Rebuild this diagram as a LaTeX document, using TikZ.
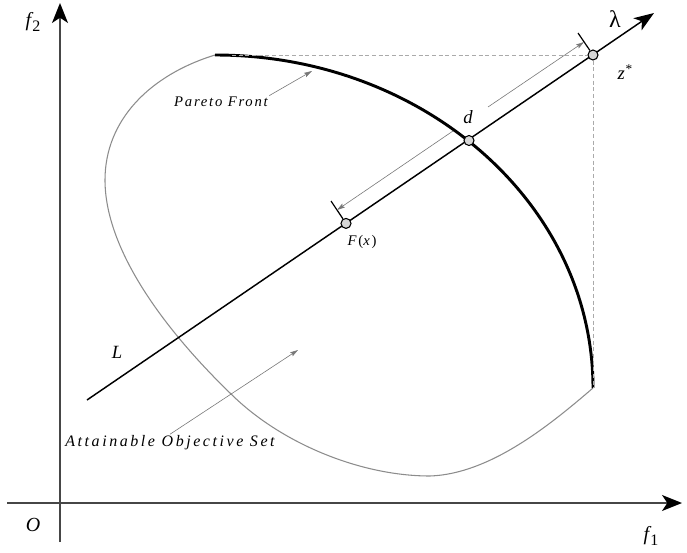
\documentclass[tikz,border=0pt]{standalone}
\usepackage{fontspec}
\setmainfont{Liberation Serif}
\newfontfamily\lblfont[LetterSpace=12]{Liberation Serif}
\newfontfamily\widelblfont[LetterSpace=16]{Liberation Serif}
\usetikzlibrary{arrows.meta}

\tikzset{every picture/.style={line width=0.75pt}}
\tikzset{
  axisline/.style={color={rgb, 255:red, 70; green, 70; blue, 70 }, line width=1.3pt, -{Stealth[length=15pt,width=12pt,inset=4pt,color=black]}},
  mainline/.style={color={rgb, 255:red, 0; green, 0; blue, 0 }, line width=1.1pt, -{Stealth[length=15pt,width=11pt,inset=4pt]}},
  pareto/.style={color={rgb, 255:red, 0; green, 0; blue, 0 }, line width=2.2pt},
  boundary/.style={color={rgb, 255:red, 140; green, 140; blue, 140 }, line width=0.8pt},
  guide/.style={color={rgb, 255:red, 170; green, 170; blue, 170 }, line width=0.5pt, dash pattern=on 3pt off 2pt},
  tickline/.style={color={rgb, 255:red, 0; green, 0; blue, 0 }, line width=0.9pt},
  dimarrow/.style={color={rgb, 255:red, 120; green, 120; blue, 120 }, line width=0.45pt, -{Stealth[length=6pt,width=3.5pt,inset=1pt]}},
  dotnode/.style={circle, draw, fill={rgb, 255:red, 215; green, 215; blue, 215 }, inner sep=0pt, minimum size=7.5pt, line width=0.8pt},
  mathlbl/.style={inner sep=0.75pt, font=\fontsize{15}{18}\selectfont\itshape},
  smalllbl/.style={inner sep=0.75pt, font=\fontsize{11}{13}\selectfont\lblfont\itshape}
}

\begin{document}
\begin{tikzpicture}[x=0.75pt,y=0.75pt,yscale=-1,xscale=1]
\useasboundingbox (0,0) rectangle (687,553);

%Axes
\coordinate (xbeg) at (7,503);
\coordinate (xend) at (682,503);
\coordinate (ybeg) at (60,542);
\coordinate (yend) at (60,3);
\draw [axisline] (xbeg) -- (xend);
\draw [axisline] (ybeg) -- (yend);

%Attainable objective set
\coordinate (pfbeg) at (215,55);
\coordinate (pfend) at (593,388);
\draw [boundary] (pfbeg) .. controls (150,75) and (105,120) .. (105,180) .. controls (105,250) and (165,330) .. (230,393) .. controls (280,443) and (360,476) .. (430,476) .. controls (490,474) and (550,425) .. (pfend) ;

%Pareto front
\draw [pareto] (pfbeg) .. controls (423.8,55) and (593,204.1) .. (pfend) ;

%Line L
\coordinate (Lbeg) at (87,400);
\coordinate (Ltip) at (654,13);
\draw [mainline] (Lbeg) -- (Ltip);

%Points on L
\node [dotnode] (zs) at (593,55) {};
\node [dotnode] (dd) at (469,140.5) {};
\node [dotnode] (fx) at (346,223.4) {};

%Dashed guides
\coordinate (hguide) at (232,55);
\draw [guide] (hguide) -- (zs);
\draw [guide] (zs) -- (pfend);

%Ticks
\coordinate (zstick) at (578,33);
\coordinate (fxtick) at (331,201);
\draw [tickline] (zs) -- (zstick);
\draw [tickline] (fx) -- (fxtick);

%Distance arrows
\coordinate (upbeg) at (488,107);
\coordinate (uptip) at (584,42);
\coordinate (dnbeg) at (453,131);
\coordinate (dntip) at (337,210);
\draw [dimarrow] (upbeg) -- (uptip);
\draw [dimarrow] (dnbeg) -- (dntip);

% Text Node
\node [mathlbl] (f2lbl) at (33,22) {f\kern1pt\raisebox{-0.5ex}{\upshape\fontsize{12}{14}\selectfont 2}};
% Text Node
\node [mathlbl] (f1lbl) at (651,536) {f\kern1pt\raisebox{-0.55ex}{\upshape\fontsize{12}{14}\selectfont 1}};
% Text Node
\node [mathlbl] (olbl) at (33,525) {O};
% Text Node
\node [mathlbl, font=\fontsize{18}{20}\selectfont] (lamlbl) at (615,19) {λ};
% Text Node
\node [mathlbl, font=\fontsize{14}{16}\selectfont\itshape] (zslbl) at (625,72) {z\kern0.5pt\raisebox{0.7ex}{\upshape\fontsize{10}{12}\selectfont *}};
% Text Node
\node [mathlbl, font=\fontsize{14}{16}\selectfont\itshape] (ddlbl) at (468,117) {d};
% Text Node
\node [mathlbl, font=\fontsize{14}{16}\selectfont\itshape] (llbl) at (117,352) {L};
% Text Node
\node [smalllbl, font=\fontsize{11}{13}\selectfont\lblfont] (fxlbl) at (362,242) {\textit{F}(\textit{x})};
% Text Node
\node [smalllbl] (pflbl) at (221,102) {Pareto Front};
% Text Node
\node [smalllbl, font=\fontsize{12}{14}\selectfont\widelblfont\itshape] (aoslbl) at (170,443) {Attainable Objective Set};

%Pointers
\coordinate (pfpt) at (312,71);
\coordinate (aospt) at (298,350);
\draw [dimarrow] (pflbl.north east) -- (pfpt);
\draw [dimarrow] (aoslbl.north) -- (aospt);

\end{tikzpicture}
\end{document}
